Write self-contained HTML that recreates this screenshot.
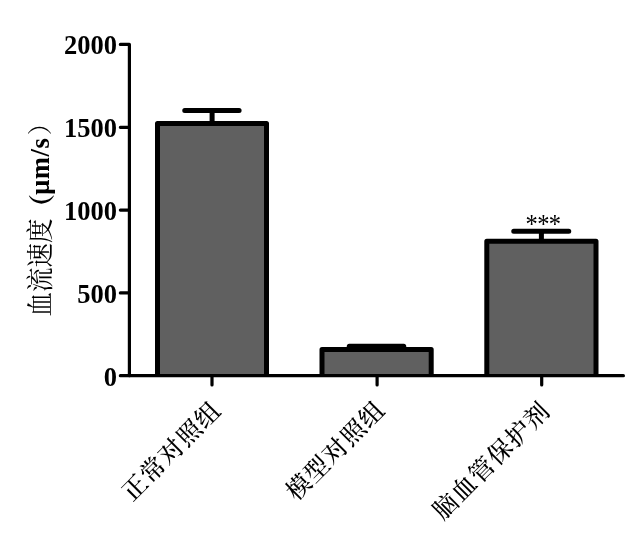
<!DOCTYPE html>
<html><head><meta charset="utf-8">
<style>
html,body{margin:0;padding:0;background:#fff;}
svg{display:block;}
text{font-family:"Liberation Serif","Noto Serif CJK SC",serif;fill:#000;}
.num{font-weight:bold;font-size:26.5px;text-anchor:end;}
.cjk{font-family:"Liberation Serif","Noto Serif CJK SC",serif;font-size:24px;}
.lat{font-weight:bold;font-size:26.5px;}
.xl{font-size:24.5px;letter-spacing:1.2px;font-weight:500;}
</style></head>
<body>
<svg width="640" height="542" viewBox="0 0 640 542">
<rect width="640" height="542" fill="#fff"/>
<!-- bars -->
<g fill="#606060" stroke="#000" stroke-width="5" stroke-linejoin="round">
<path d="M157.5 376 V123.5 H266.5 V376"/>
<path d="M322 376 V349.4 H431.2 V376"/>
<path d="M486.8 376 V241.25 H596 V376"/>
</g>
<!-- error bars -->
<g stroke="#000" stroke-width="5" stroke-linecap="round" fill="none">
<path d="M212.1 123 V110.6 M184.75 110.6 H239.1"/>
<path d="M349.3 346.3 H403.7"/>
<path d="M541.4 240 V231.25 M513.75 231.25 H568.75"/>
</g>
<!-- axes -->
<g stroke="#000" stroke-width="3.2" fill="none" stroke-linecap="round" stroke-linejoin="round">
<path d="M120.35 44.45 H129.4 V375.7"/>
<path d="M120.35 375.7 H623.4"/>
<path d="M120.35 127.3 H129.4 M120.35 210.1 H129.4 M120.35 292.9 H129.4"/>
<path d="M212 376 V385 M377.1 376 V385 M541.7 376 V385"/>
</g>
<g class="num">
<text x="117" y="54" dy="-0.3">2000</text>
<text x="117" y="137" dy="-0.3">1500</text>
<text x="117" y="220" dy="-0.3">1000</text>
<text x="117" y="303" dy="-0.3">500</text>
<text x="117" y="386" dy="-0.3">0</text>
</g>
<text transform="translate(543,232.5) scale(1,1.09)" font-size="24.5" letter-spacing="-0.65" text-anchor="middle">***</text>
<text class="cjk" transform="translate(50.3,0) rotate(-90) scale(1,1.1)" x="-316.5" y="0" style="font-size:24.5px">血流速度</text>
<text class="cjk" transform="translate(49,0) rotate(-90)" y="0"><tspan class="lat" x="-220.6" dy="2.2" style="font-weight:900">（</tspan><tspan class="lat" x="-194.8" dy="-2.7" letter-spacing="0.6">μm/s</tspan><tspan x="-135.3" dy="0.5" style="font-size:24.5px">）</tspan></text>
<text class="cjk xl" transform="translate(223,411.5) rotate(-45)" text-anchor="end">正常对照组</text>
<text class="cjk xl" transform="translate(387,411) rotate(-45)" text-anchor="end">模型对照组</text>
<text class="cjk xl" transform="translate(552,412) rotate(-45)" text-anchor="end">脑血管保护剂</text>
</svg>
</body></html>
